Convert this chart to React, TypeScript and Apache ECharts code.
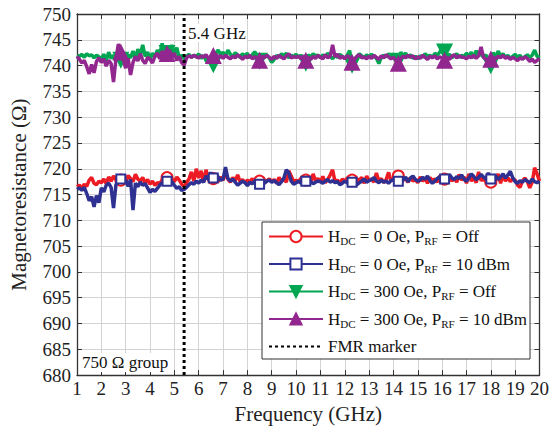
import React, { useEffect, useRef } from "react";
import * as echarts from "echarts";

const SERIF = "'Liberation Serif', 'Times New Roman', serif";

// Frequency sweep: 1.0 to 20.0 GHz in 0.1 GHz steps
const frequencies: number[] = Array.from({ length: 191 }, (_, i) => Math.round((1 + 0.1 * i) * 10) / 10);

// Points that carry a marker symbol (every 1.9 GHz)
const markerFreqs = [2.8, 4.7, 6.6, 8.5, 10.4, 12.3, 14.2, 16.1, 18.0];

const fmrFreq = 5.4;

// H_DC = 0 Oe, P_RF = Off
const r0Off = [
  716.5, 716.8, 716.3, 717.0, 716.6, 717.8, 718.3, 717.2, 716.9, 717.6,
  717.3, 718.0, 717.1, 718.4, 717.6, 718.6, 717.9, 718.2, 717.8, 718.5,
  717.4, 718.7, 718.1, 717.5, 718.9, 718.0, 717.6, 718.3, 717.2, 717.9,
  717.0, 717.6, 716.8, 717.3, 717.1, 717.9, 718.2, 718.3, 717.8, 718.0,
  717.5, 718.4, 717.8, 717.0, 716.6, 717.3, 718.0, 719.4, 717.6, 720.0,
  718.2, 719.6, 717.4, 719.8, 718.0, 717.2, 718.1, 719.0, 717.5, 718.4,
  717.8, 719.2, 718.0, 717.4, 718.3, 717.7, 718.8, 717.5, 717.9, 717.3,
  717.8, 717.4, 718.1, 717.2, 717.9, 717.6, 718.2, 717.3, 717.7, 718.0,
  717.5, 717.9, 717.2, 718.3, 717.6, 718.0, 717.4, 719.6, 718.6, 717.5,
  717.8, 717.4, 718.2, 717.1, 717.8, 718.3, 717.5, 719.0, 717.6, 718.1,
  717.4, 718.5, 717.3, 717.9, 718.8, 719.8, 717.5, 717.8, 717.2, 718.0,
  717.6, 718.2, 717.3, 717.8, 718.4, 717.5, 717.9, 718.3, 717.2, 718.6,
  717.7, 718.0, 717.4, 719.2, 717.6, 718.1, 717.3, 717.9, 719.3, 717.6,
  718.2, 717.5, 718.6, 717.1, 717.9, 718.0, 717.4, 718.3, 717.6, 717.9,
  717.3, 718.4, 717.6, 718.1, 717.2, 718.3, 717.7, 718.0, 717.4, 718.6,
  717.5, 718.0, 717.3, 718.7, 717.6, 718.2, 717.4, 718.9, 717.8, 718.4,
  717.2, 719.0, 717.6, 718.3, 717.3, 719.4, 717.7, 718.0, 717.5, 718.3,
  717.4, 718.1, 717.7, 719.0, 717.2, 718.9, 717.6, 718.3, 717.5, 718.0,
  717.8, 716.8, 716.4, 717.6, 718.2, 717.5, 716.3, 717.4, 720.2, 719.0,
  717.6,
];

// H_DC = 0 Oe, P_RF = 10 dBm
const b0Rf = [
  716.0, 716.3, 715.8, 716.4, 715.2, 713.8, 714.6, 712.6, 714.8, 713.4,
  716.3, 715.5, 716.8, 717.2, 716.4, 712.4, 716.9, 717.6, 718.0, 717.3,
  717.8, 716.6, 717.9, 712.0, 717.2, 716.5, 717.4, 716.8, 717.1, 716.3,
  715.4, 716.0, 715.6, 716.2, 716.8, 717.3, 716.9, 717.6, 717.2, 717.5,
  716.8, 716.2, 716.5, 715.8, 716.0, 716.4, 716.9, 717.3, 717.0, 717.6,
  717.2, 717.8, 717.4, 718.6, 717.9, 719.3, 718.2, 719.0, 718.4, 717.8,
  718.0, 720.3, 718.1, 717.6, 718.0, 717.4, 716.8, 717.2, 717.6, 717.3,
  716.7, 717.4, 717.1, 717.6, 717.3, 717.0, 717.5, 717.2, 717.6, 717.8,
  717.4, 717.7, 717.3, 716.9, 717.5, 718.2, 719.8, 719.2, 717.6, 717.0,
  717.3, 717.6, 717.2, 717.4, 717.6, 717.3, 717.5, 717.1, 717.4, 717.6,
  717.5, 717.2, 717.6, 717.9, 717.4, 717.7, 717.3, 717.5, 716.9, 717.2,
  717.6, 717.3, 717.0, 717.4, 717.1, 716.9, 717.3, 717.6, 718.0, 717.4,
  717.7, 717.9, 718.3, 717.6, 717.3, 717.8, 717.4, 717.6, 717.2, 717.7,
  717.9, 718.2, 717.6, 718.1, 717.8, 718.4, 717.5, 718.2, 718.6, 717.9,
  717.6, 717.8, 718.3, 718.0, 718.6, 717.7, 717.2, 717.6, 718.1, 718.4,
  717.8, 718.0, 717.5, 718.9, 718.2, 717.9, 718.5, 718.1, 718.8, 718.0,
  717.6, 718.2, 719.0, 718.5, 717.9, 718.3, 718.9, 718.4, 718.0, 719.2,
  718.0, 718.3, 718.6, 717.9, 718.4, 719.0, 718.2, 718.8, 719.5, 718.3,
  717.5, 717.2, 717.7, 717.4, 717.9, 717.6, 717.3, 718.0, 717.5, 717.3,
  717.6,
];

// H_DC = 300 Oe, P_RF = Off
const g300Off = [
  742.0, 741.8, 742.2, 741.6, 742.3, 741.9, 742.1, 741.5, 742.0, 741.7,
  741.3, 742.2, 741.0, 742.6, 741.4, 742.0, 740.8, 742.4, 741.2, 740.6,
  741.0, 742.1, 741.5, 742.8, 741.3, 743.2, 742.0, 744.0, 741.8, 742.6,
  741.2, 742.4, 741.7, 743.0, 742.2, 744.3, 741.9, 742.5, 742.5, 744.0,
  742.2, 743.5, 741.5, 742.0, 741.3, 741.8, 742.2, 741.6, 742.0, 741.7,
  742.3, 741.4, 742.0, 741.0, 740.5, 741.2, 740.3, 742.4, 743.0, 742.1,
  742.6, 741.8, 743.0, 742.2, 741.7, 742.5, 742.0, 741.6, 742.3, 741.9,
  742.4, 741.5, 742.0, 742.7, 741.8, 741.0, 742.2, 741.7, 742.0, 741.5,
  740.6, 741.2, 742.0, 741.6, 742.3, 741.9, 742.4, 741.5, 742.0, 741.7,
  742.2, 741.6, 742.0, 741.4, 740.6, 742.1, 741.6, 742.3, 741.9, 742.0,
  741.5, 742.1, 741.7, 742.4, 741.8, 741.3, 742.0, 741.6, 742.2, 741.8,
  741.4, 742.0, 742.9, 740.2, 741.2, 741.6, 742.3, 741.9, 741.5, 742.1,
  741.7, 742.2, 741.8, 741.4, 740.4, 741.6, 742.0, 741.7, 742.3, 741.9,
  742.2, 741.5, 741.0, 742.6, 741.8, 742.4, 741.6, 742.1, 741.4, 741.8,
  741.3, 741.9, 741.6, 742.3, 741.8, 742.0, 741.5, 742.4, 742.0, 742.6,
  743.2, 742.8, 741.8, 742.2, 741.5, 741.9, 742.3, 741.6, 742.0, 741.7,
  742.4, 741.8, 742.6, 741.5, 742.9, 741.9, 742.3, 741.6, 742.1, 740.8,
  740.1, 742.5, 741.7, 742.8, 741.9, 742.3, 741.6, 742.0, 741.4, 741.8,
  742.2, 741.5, 742.0, 741.3, 741.7, 742.1, 741.6, 742.0, 743.0, 741.8,
  741.5,
];

// H_DC = 300 Oe, P_RF = 10 dBm
const p300Rf = [
  741.8, 741.2, 740.5, 741.0, 739.8, 738.4, 740.2, 738.6, 740.8, 741.5,
  740.6, 741.3, 739.9, 741.0, 740.4, 736.8, 741.3, 744.2, 742.5, 741.2,
  739.5, 741.4, 738.2, 740.6, 741.8, 740.9, 742.3, 741.0, 740.4, 741.6,
  741.2, 740.5, 741.8, 742.4, 741.3, 742.8, 741.5, 742.2, 743.0, 741.6,
  742.4, 741.0, 741.8, 740.6, 740.1, 741.5, 741.9, 741.6, 742.0, 741.7,
  741.5, 741.9, 741.6, 742.1, 741.4, 741.7, 741.8, 742.2, 741.6, 741.9,
  741.4, 742.0, 741.6, 741.3, 741.8, 741.5, 742.1, 741.7, 741.2, 741.8,
  741.5, 742.0, 741.3, 741.7, 741.4, 740.9, 741.8, 741.5, 742.0, 741.6,
  741.2, 741.8, 741.4, 742.0, 741.6, 741.3, 741.9, 742.3, 741.5, 741.7,
  741.6, 741.8, 741.3, 741.9, 740.9, 741.6, 741.2, 741.8, 741.4, 742.0,
  741.6, 741.3, 742.1, 741.5, 741.8, 744.0, 741.7, 742.2, 741.4, 741.8,
  741.3, 741.9, 741.6, 740.5, 741.2, 741.8, 742.1, 741.5, 741.7, 741.3,
  741.8, 741.4, 742.0, 741.6, 741.2, 741.9, 741.5, 742.1, 741.7, 741.3,
  741.6, 741.0, 740.3, 741.4, 741.8, 741.5, 742.0, 741.6, 741.9, 741.3,
  741.7, 741.4, 742.0, 741.6, 741.2, 741.8, 741.5, 741.9, 741.3, 741.7,
  741.4, 740.9, 741.6, 741.2, 741.8, 742.1, 741.5, 741.9, 741.6, 741.6,
  741.3, 741.8, 741.5, 742.0, 741.4, 741.9, 743.6, 741.6, 741.2, 741.0,
  741.1, 741.6, 741.3, 741.8, 741.5, 742.0, 741.4, 741.7, 741.2, 741.6,
  741.3, 741.0, 741.5, 741.2, 741.7, 741.4, 740.8, 741.3, 740.6, 741.0,
  741.4,
];

const seriesNames = [
  "HDC = 0 Oe, PRF = Off",
  "HDC = 0 Oe, PRF = 10 dBm",
  "HDC = 300 Oe, PRF = Off",
  "HDC = 300 Oe, PRF = 10 dBm",
  "FMR marker",
];

const legendRich: Record<string, string> = {
  "HDC = 0 Oe, PRF = Off": "{n|H}{s|DC}{n| = 0 Oe, P}{s|RF}{n| = Off}",
  "HDC = 0 Oe, PRF = 10 dBm": "{n|H}{s|DC}{n| = 0 Oe, P}{s|RF}{n| = 10 dBm}",
  "HDC = 300 Oe, PRF = Off": "{n|H}{s|DC}{n| = 300 Oe, P}{s|RF}{n| = Off}",
  "HDC = 300 Oe, PRF = 10 dBm": "{n|H}{s|DC}{n| = 300 Oe, P}{s|RF}{n| = 10 dBm}",
  "FMR marker": "{n|FMR marker}",
};

const COLORS = ["#ED1C24", "#2E3192", "#00A651", "#92278F"];

function buildData(values: number[]) {
  return values.map((v, i) => {
    const f = frequencies[i];
    const marked = markerFreqs.some((m) => Math.abs(m - f) < 1e-6);
    return marked ? { value: [f, v] } : { value: [f, v], symbol: "none" };
  });
}

export default function App() {
  const ref = useRef<HTMLDivElement>(null);

  useEffect(() => {
    if (!ref.current) return;
    const chart = echarts.init(ref.current, undefined, { renderer: "svg" });

    const lineSeries = (
      idx: number,
      values: number[],
      symbol: string,
      symbolSize: number,
      extra: any = {}
    ) => ({
      name: seriesNames[idx],
      type: "line",
      data: buildData(values),
      symbol,
      symbolSize,
      showSymbol: true,
      lineStyle: { color: COLORS[idx], width: 3.5 },
      itemStyle: { color: COLORS[idx], borderColor: COLORS[idx], borderWidth: 2.5 },
      emphasis: { disabled: true },
      z: 2 + idx,
      ...extra,
    });

    const axisCommon = {
      type: "value",
      axisLine: { show: true, onZero: false, lineStyle: { color: "#333", width: 1.3 } },
      axisTick: { show: true, inside: true, length: 5, lineStyle: { color: "#333", width: 1 } },
    };

    chart.setOption({
      animation: false,
      backgroundColor: "#fff",
      textStyle: { fontFamily: SERIF },
      grid: { left: 77, right: 8, top: 14, bottom: 46, containLabel: false },
      xAxis: [
        {
          ...axisCommon,
          position: "bottom",
          min: 1,
          max: 20,
          interval: 1,
          axisLabel: { fontSize: 19, color: "#222", margin: 4, fontFamily: SERIF },
          splitLine: { show: true, lineStyle: { color: "#d3d3d3", width: 1 } },
          name: "Frequency (GHz)",
          nameLocation: "middle",
          nameGap: 21,
          nameTextStyle: { fontSize: 21, color: "#222", fontFamily: SERIF },
        },
        {
          ...axisCommon,
          position: "top",
          min: 1,
          max: 20,
          interval: 1,
          axisLabel: { show: false },
          splitLine: { show: false },
        },
      ],
      yAxis: [
        {
          ...axisCommon,
          position: "left",
          min: 680,
          max: 750,
          interval: 5,
          axisLabel: { fontSize: 19, color: "#222", margin: 6, fontFamily: SERIF },
          splitLine: { show: true, lineStyle: { color: "#d3d3d3", width: 1 } },
          name: "Magnetoresistance (Ω)",
          nameLocation: "middle",
          nameGap: 48,
          nameTextStyle: { fontSize: 21, color: "#222", fontFamily: SERIF },
        },
        {
          ...axisCommon,
          position: "right",
          min: 680,
          max: 750,
          interval: 5,
          axisLabel: { show: false },
          splitLine: { show: false },
        },
      ],
      legend: {
        orient: "vertical",
        left: 262,
        top: 222,
        padding: [6, 3, 4, 6],
        itemWidth: 54,
        itemHeight: 14,
        itemGap: 9,
        backgroundColor: "#fff",
        borderColor: "#333",
        borderWidth: 1,
        data: seriesNames,
        formatter: (name: string) => legendRich[name] || name,
        textStyle: {
          fontFamily: SERIF,
          color: "#111",
          rich: {
            n: { fontSize: 17, lineHeight: 20, fontFamily: SERIF, color: "#111" },
            s: { fontSize: 11, lineHeight: 12, verticalAlign: "bottom", fontFamily: SERIF, color: "#111" },
          },
        },
      },
      series: [
        lineSeries(0, r0Off, "emptyCircle", 11),
        lineSeries(1, b0Rf, "emptyRect", 9),
        lineSeries(2, g300Off, "triangle", 13, { symbolRotate: 180 }),
        lineSeries(3, p300Rf, "triangle", 13),
        {
          name: seriesNames[4],
          type: "line",
          data: [
            [fmrFreq, 680],
            [fmrFreq, 750],
          ],
          symbol: "circle",
          symbolSize: 0,
          showSymbol: false,
          lineStyle: { color: "#000", width: 3, type: [3, 3] },
          itemStyle: { color: "#000", opacity: 0 },
          emphasis: { disabled: true },
          z: 10,
        },
      ],
    });

    // Annotations anchored to the axes' own coordinate system
    const top = chart.convertToPixel({ gridIndex: 0 }, [fmrFreq, 750]) as number[];
    const corner = chart.convertToPixel({ gridIndex: 0 }, [1, 680]) as number[];
    chart.setOption({
      graphic: [
        {
          type: "text",
          x: top[0] + 3,
          y: top[1] + 10,
          z: 20,
          style: {
            text: "5.4 GHz",
            font: `17px ${SERIF}`,
            fill: "#111",
            backgroundColor: "#fff",
            padding: [1, 1, 0, 1],
          },
        },
        {
          type: "text",
          x: corner[0] + 4,
          y: corner[1] - 22,
          z: 20,
          style: {
            text: "750 Ω group",
            font: `17px ${SERIF}`,
            fill: "#111",
            backgroundColor: "#fff",
            padding: [1, 2, 1, 1],
          },
        },
      ],
    });

    return () => chart.dispose();
  }, []);

  return <div ref={ref} style={{ width: 552, height: 429, position: "absolute", left: 0, top: 0 }} />;
}
